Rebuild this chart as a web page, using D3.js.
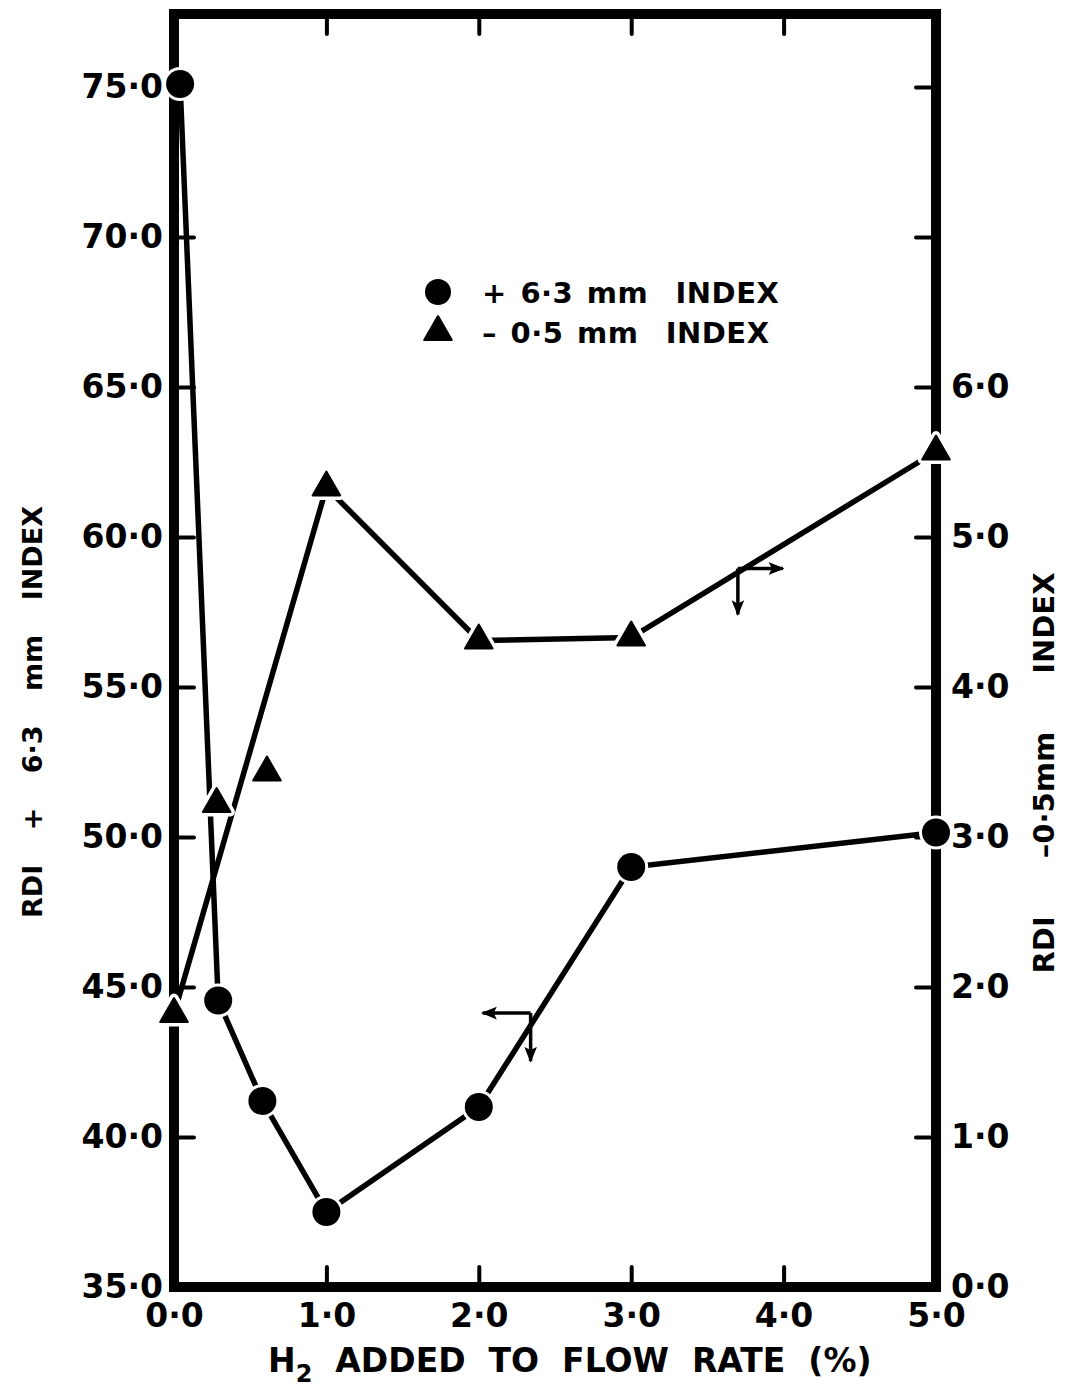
<!DOCTYPE html>
<html>
<head>
<meta charset="utf-8">
<script src="https://cdn.jsdelivr.net/npm/d3@7"></script>
<style>
  body { margin: 0; background: #fff; }
  svg { display: block; }
  text { font-family: "DejaVu Sans", sans-serif; fill: #000; }
</style>
</head>
<body>
<svg width="1065" height="1389"></svg>
<script>
// x: H2 added to flow rate (%)
let xTicks = [0, 1, 2, 3, 4, 5]
let leftTicks = [35, 40, 45, 50, 55, 60, 65, 70, 75]
let rightTicks = [0, 1, 2, 3, 4, 5, 6, 7, 8]
let rightLabelMax = 6

// + 6.3 mm index (left axis)
let circleX = [0.04, 0.29, 0.58, 1.0, 2.0, 3.0, 5.0]
let circleY = [75.1, 44.55, 41.2, 37.5, 41.0, 49.0, 50.15]

// - 0.5 mm index (right axis)
let triX = [0.0, 0.28, 0.61, 1.0, 2.0, 3.0, 5.0]
let triY = [1.82, 3.22, 3.43, 5.33, 4.31, 4.33, 5.57]
let triOnLine = [true, false, false, true, true, true, true]

// which-axis arrows: x, value on their axis
let arrowRight = {x: 3.70, v: 4.79}
let arrowLeft = {x: 2.34, v: 44.13}

let fmt = d => d.toFixed(1).replace('.', '\u00B7')

let svg = d3.select('svg')

let x = d3.scaleLinear().domain([0, 5]).range([174, 936])
let yL = d3.scaleLinear().domain([35, 75]).range([1287, 87])
let yR = d3.scaleLinear().domain([0, 8]).range([1287, 87])
let frameTop = 14

// frame
svg.append('path')
    .attr('d', `M${x(0)},${frameTop}H${x(5)}V${yL(35)}H${x(0)}Z`)
    .attr('fill', 'none')
    .attr('stroke', '#000')
    .attr('stroke-width', 10)

let styleAxis = (g) => {
    g.select('.domain').remove()
    g.selectAll('.tick line').attr('stroke', '#000').attr('stroke-width', 4).attr('stroke-linecap', 'round')
    g.selectAll('.tick text').attr('font-size', 33).attr('font-weight', 'bold').attr('font-family', null)
}

svg.append('g')
    .attr('transform', `translate(${x(0)},0)`)
    .call(d3.axisLeft(yL).tickValues(leftTicks).tickSize(-20).tickPadding(11).tickFormat(fmt))
    .call(styleAxis)

svg.append('g')
    .attr('transform', `translate(${x(5)},0)`)
    .call(d3.axisRight(yR).tickValues(rightTicks).tickSize(-20).tickPadding(15)
        .tickFormat(d => d <= rightLabelMax ? fmt(d) : ''))
    .call(styleAxis)

svg.append('g')
    .attr('transform', `translate(0,${yL(35)})`)
    .call(d3.axisBottom(x).tickValues(xTicks).tickSize(-20).tickPadding(17).tickFormat(fmt))
    .call(styleAxis)

svg.append('g')
    .attr('transform', `translate(0,${frameTop})`)
    .call(d3.axisTop(x).tickValues(xTicks.slice(1, -1)).tickSize(-20).tickFormat(''))
    .call(styleAxis)

// series lines
let circles = circleX.map((d, i) => ({x: d, y: circleY[i]}))
let tris = triX.map((d, i) => ({x: d, y: triY[i], on: triOnLine[i]}))

let lineL = d3.line().x(d => x(d.x)).y(d => yL(d.y))
let lineR = d3.line().x(d => x(d.x)).y(d => yR(d.y))

svg.append('path')
    .attr('d', lineR(tris.filter(d => d.on)))
    .attr('fill', 'none').attr('stroke', '#000').attr('stroke-width', 5.5)

svg.append('path')
    .attr('d', lineL(circles))
    .attr('fill', 'none').attr('stroke', '#000').attr('stroke-width', 5.5)

// axis arrows
svg.append('defs').append('marker')
    .attr('id', 'head')
    .attr('viewBox', '0 0 10 10')
    .attr('refX', 9).attr('refY', 5)
    .attr('markerWidth', 4.5).attr('markerHeight', 4.5)
    .attr('markerUnits', 'strokeWidth')
    .attr('orient', 'auto')
    .append('path').attr('d', 'M0,1L10,5L0,9L2,5Z').attr('fill', '#000')

let arrow = (x0, y0, dx, dy) => {
    svg.append('line')
        .attr('x1', x0).attr('y1', y0).attr('x2', x0 + dx).attr('y2', y0 + dy)
        .attr('stroke', '#000').attr('stroke-width', 3.5)
        .attr('marker-end', 'url(#head)')
}
arrow(x(arrowRight.x), yR(arrowRight.v), 45, 0)
arrow(x(arrowRight.x), yR(arrowRight.v), 0, 46)
arrow(x(arrowLeft.x), yL(arrowLeft.v), -48, 0)
arrow(x(arrowLeft.x), yL(arrowLeft.v), 0, 48)

// markers with white halo
let tri = d3.symbol().type(d3.symbolTriangle).size(330)

svg.selectAll('.tri-halo').data(tris).enter().append('path')
    .attr('class', 'tri-halo')
    .attr('d', tri)
    .attr('transform', d => `translate(${x(d.x)},${yR(d.y)})`)
    .attr('fill', '#fff').attr('stroke', '#fff').attr('stroke-width', 9).attr('stroke-linejoin', 'round')

svg.selectAll('.circ-halo').data(circles).enter().append('circle')
    .attr('class', 'circ-halo')
    .attr('cx', d => x(d.x)).attr('cy', d => yL(d.y)).attr('r', 17)
    .attr('fill', '#fff')

svg.selectAll('.tri').data(tris).enter().append('path')
    .attr('class', 'tri')
    .attr('d', tri)
    .attr('transform', d => `translate(${x(d.x)},${yR(d.y)})`)
    .attr('fill', '#000').attr('stroke', '#000').attr('stroke-width', 2).attr('stroke-linejoin', 'round')

svg.selectAll('.circ').data(circles).enter().append('circle')
    .attr('class', 'circ')
    .attr('cx', d => x(d.x)).attr('cy', d => yL(d.y)).attr('r', 14)
    .attr('fill', '#000')

// legend
let legend = svg.append('g').attr('transform', 'translate(438,292)')
legend.append('circle').attr('r', 13).attr('fill', '#000')
legend.append('path').attr('d', tri).attr('transform', 'translate(0,40)')
    .attr('fill', '#000').attr('stroke', '#000').attr('stroke-width', 2).attr('stroke-linejoin', 'round')
legend.append('text').attr('x', 44).attr('y', 11)
    .attr('font-size', 29).attr('font-weight', 'bold')
    .attr('letter-spacing', 0.5).attr('word-spacing', 3)
    .style('white-space', 'pre')
    .text('+ 6\u00B73 mm  INDEX')
legend.append('text').attr('x', 44).attr('y', 51)
    .attr('font-size', 29).attr('font-weight', 'bold')
    .attr('letter-spacing', 0.5).attr('word-spacing', 3)
    .style('white-space', 'pre')
    .text('\u2013 0\u00B75 mm  INDEX')

// axis titles
svg.append('text')
    .attr('transform', 'translate(32,712) rotate(-90)')
    .attr('text-anchor', 'middle').attr('dy', '0.36em')
    .attr('font-size', 27).attr('font-weight', 'bold')
    .attr('word-spacing', 25)
    .text('RDI + 6\u00B73 mm INDEX')

svg.append('text')
    .attr('transform', 'translate(1044,773) rotate(-90)')
    .attr('text-anchor', 'middle').attr('dy', '0.36em')
    .attr('font-size', 29).attr('font-weight', 'bold')
    .attr('word-spacing', 48)
    .text('RDI \u20130\u00B75mm INDEX')

let xt = svg.append('text')
    .attr('x', 268).attr('y', 1372)
    .attr('font-size', 33).attr('font-weight', 'bold')
    .style('white-space', 'pre')
xt.append('tspan').text('H')
xt.append('tspan').attr('dy', 10).attr('font-size', 24).text('2')
xt.append('tspan').attr('dy', -10).text('  ADDED  TO  FLOW  RATE  (%)')
</script>
</body>
</html>
